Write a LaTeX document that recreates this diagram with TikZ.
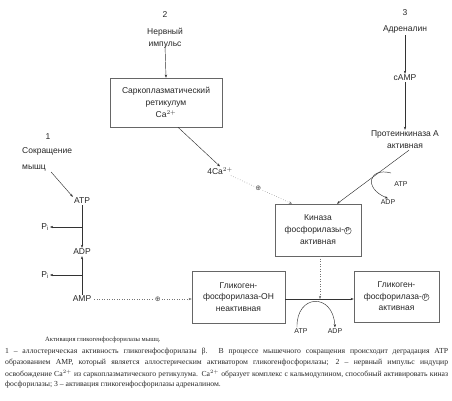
\documentclass[tikz,border=0pt]{standalone}
\usepackage{fontspec}
\setmainfont{Liberation Sans}
\newfontfamily\capfont{Liberation Serif}
\newfontfamily\symfont{DejaVu Sans}
\usetikzlibrary{arrows.meta}
\newcommand\myCircP{\tikz[baseline=(cp.base),x=1cm,y=1cm]\node[draw=black!80,line width=0.4pt,circle,minimum width=0pt,minimum height=0pt,inner sep=0.3pt,text=black!85,font=\fontsize{6.3}{6.3}\selectfont](cp){P};}
\newcommand\capline[1]{\makebox[443pt][s]{#1}}
\begin{document}
\begin{tikzpicture}[x=1pt,y=-1pt,
  font=\fontsize{8.5}{12}\selectfont,
  every node/.style={inner sep=1pt, text=black!85},
  box/.style={draw=black!60, line width=0.5pt, align=center, inner sep=2pt},
  arr/.style={draw=black!80, line width=0.45pt, -{Stealth[length=3.2pt,width=2.4pt]}},
  dotarr/.style={draw=black!55, line width=0.5pt, dotted, -{Stealth[length=3.2pt,width=2.4pt]}},
  plus/.style={fill=white, inner sep=0.5pt, font=\symfont\fontsize{7}{7}\selectfont, text=black!70},
  captext/.style={anchor=west, inner sep=0pt, font=\capfont\fontsize{7.7}{9}\selectfont}
]
\useasboundingbox (0,0) rectangle (452,400);

% --- 2: nerve impulse ---
\node (n2) at (165,15) {2};
\node[align=center] (nerv) at (165,38) {Нервный\\импульс};
\node[box, minimum width=112pt, minimum height=49pt, font=\fontsize{8.5}{12}\selectfont] (sr) at (166,102.5) {Саркоплазматический\\ретикулум\\Ca$^{2+}$};
\draw[arr] ([yshift=4pt]nerv.south) -- (sr.north);

% --- 1: muscle contraction ---
\node (n1) at (48,137) {1};
\node[align=left, anchor=north west, font=\fontsize{8.5}{16}\selectfont] (sok) at (21,146) {Сокращение\\мышц};
\node (atp) at (82,201) {ATP};
\node (adp) at (82,252) {ADP};
\node (amp) at (82,299) {AMP};
\node (pi1) at (45,227) {P\textsubscript{i}};
\node (pi2) at (45,275) {P\textsubscript{i}};
\coordinate (b1) at (82,227);
\coordinate (b2) at (82,275);
\draw[arr] ([xshift=4pt]sok.south) -- (atp.north west);
\draw[arr] (atp.south) -- (adp.north);
\draw[arr] (amp.north) -- (adp.south);
\draw[arr] (b1) -- (pi1.east);
\draw[arr] (b2) -- (pi2.east);

% --- boxes ---
\node[box, minimum width=93pt, minimum height=52pt, font=\fontsize{8.5}{11.5}\selectfont] (oh) at (238.5,297) {Гликоген-\\фосфорилаза-ОН\\неактивная};
\node[box, minimum width=85pt, minimum height=51pt, font=\fontsize{8.5}{11.5}\selectfont] (pb) at (396.5,296.5) {Гликоген-\\фосфорилаза-\myCircP\\активная};
\node[box, minimum width=86pt, minimum height=52pt, font=\fontsize{8.5}{12}\selectfont] (kin) at (318,230) {Киназа\\фосфорилазы-\myCircP\\активная};

\coordinate (ampE) at ([xshift=2pt]amp.east);
\coordinate (ohW) at (oh.west |- ampE);
\draw[dotarr] (ampE) -- node[plus, pos=0.65] {⊕} (ohW);
\coordinate (ohE) at (oh.east |- ampE);
\coordinate (pbW) at (pb.west |- ampE);
\draw[arr] (ohE) -- (pbW);
\coordinate (m) at (320,299);
\draw[dotarr] (m |- kin.south) -- (m);
\node (atpb) at (301,331) {\fontsize{7}{7}\selectfont ATP};
\node (adpb) at (335,331) {\fontsize{7}{7}\selectfont ADP};
\draw[arr] ([xshift=-4pt]atpb.north) .. controls (296,294) and (333,292) .. (adpb.north);

% --- Ca ---
\node (ca) at (220,171) {4Ca$^{2+}$};
\draw[arr] ([xshift=12pt]sr.south) -- (ca.north);
\draw[dotarr] ([xshift=-3pt]ca.south east) -- node[plus, pos=0.45] {⊕} ([xshift=-26pt]kin.north);

% --- 3: adrenaline ---
\node (n3) at (405,13) {3};
\node (adr) at (405,29) {Адреналин};
\node (camp) at (405,78) {cAMP};
\node[align=center, font=\fontsize{8.5}{12}\selectfont] (pka) at (405,140) {Протеинкиназа А\\активная};
\draw[arr] ([yshift=-1pt]adr.south) -- (camp.north);
\draw[arr] (camp.south) -- (pka.north);
\draw[arr] ([xshift=4pt]pka.south) -- ([xshift=19pt]kin.north);
\node (atpt) at (401,184) {\fontsize{7}{7}\selectfont ATP};
\node (adpt) at (388,202) {\fontsize{7}{7}\selectfont ADP};
\coordinate (hs) at (391,173);
\draw[arr] (hs) .. controls (369,167) and (363,188) .. (adpt.north);

% --- caption ---
\node[captext, font=\capfont\fontsize{6.6}{9}\selectfont] (c0) at (45,340) {Активация гликогенфосфорилазы мышц.};
\node[captext] (c1) at (5,352) {\capline{1 – аллостерическая активность гликогенфосфорилазы β. В процессе мышечного сокращения происходит деградация АТР}};
\node[captext] (c2) at (5,363) {\capline{образованием АМР, который является аллостерическим активатором гликогенфосфорилазы; 2 – нервный импульс индуцир}};
\node[captext] (c3) at (5,374) {\capline{освобождение Ca$^{2+}$ из саркоплазматического ретикулума. Ca$^{2+}$ образует комплекс с кальмодулином, способный активировать киназ}};
\node[captext] (c4) at (5,385) {фосфорилазы; 3 – активация гликогенфосфорилазы адреналином.};
\end{tikzpicture}
\end{document}
